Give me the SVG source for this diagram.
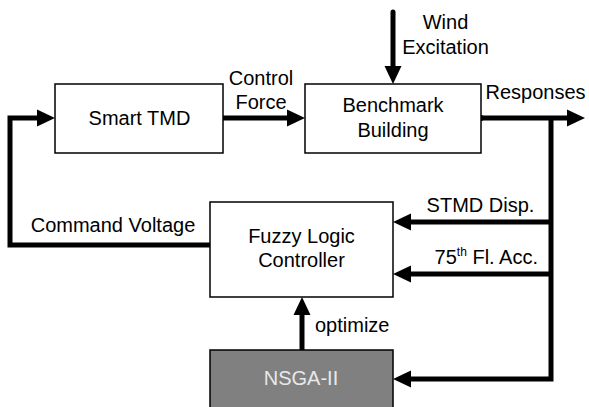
<svg xmlns="http://www.w3.org/2000/svg" width="589" height="407" viewBox="0 0 589 407">
<style>
text{font-family:"Liberation Sans",Arial,sans-serif;font-size:20px;fill:#000}
.c{text-anchor:middle}
.box{fill:#fff;stroke:#000;stroke-width:1.5}
.gray{fill:#808080;stroke:#000;stroke-width:1.5}
.ln{fill:none;stroke:#000;stroke-width:5;stroke-linejoin:miter}
</style>
<defs>
<marker id="ah" markerUnits="userSpaceOnUse" markerWidth="18" markerHeight="18" refX="0" refY="8.5" orient="auto" overflow="visible">
<path d="M0,0 L18,8.5 L0,17 z" fill="#000"/>
</marker>
</defs>
<g id="connectors">
<path class="ln" d="M210,245 H10 V118 H37" marker-end="url(#ah)"/>
<path class="ln" d="M223,118 H287" marker-end="url(#ah)"/>
<path class="ln" d="M393,12 V66" stroke-linecap="round" marker-end="url(#ah)"/>
<path class="ln" d="M481,118 H567" marker-end="url(#ah)"/>
<circle cx="481" cy="118" r="3" fill="#000"/>
<path class="ln" d="M551,118 V379 H411" marker-end="url(#ah)"/>
<path class="ln" d="M551,222 H411" marker-end="url(#ah)"/>
<path class="ln" d="M551,274 H411" marker-end="url(#ah)"/>
<path class="ln" d="M302,350 V315" marker-end="url(#ah)"/>
</g>
<g id="smart-tmd">
<rect class="box" x="55" y="84" width="168" height="69"/>
<text class="c" x="139.5" y="125">Smart TMD</text>
</g>
<g id="benchmark-building">
<rect class="box" x="305" y="84" width="176" height="69"/>
<text class="c" x="393" y="112">Benchmark</text>
<text class="c" x="393" y="137">Building</text>
</g>
<g id="fuzzy-logic-controller">
<rect class="box" x="210" y="202" width="183" height="95"/>
<text class="c" x="301.5" y="243">Fuzzy Logic</text>
<text class="c" x="301.5" y="267">Controller</text>
</g>
<g id="nsga-ii">
<rect class="gray" x="210" y="350" width="183" height="60"/>
<text class="c" x="301" y="385" style="fill:#e8e8e8">NSGA-II</text>
</g>
<g id="labels">
<text class="c" x="261" y="85">Control</text>
<text class="c" x="261" y="109">Force</text>
<text class="c" x="445.5" y="29">Wind</text>
<text class="c" x="445.5" y="54">Excitation</text>
<text class="c" x="535.5" y="99">Responses</text>
<text class="c" x="113" y="232">Command Voltage</text>
<text class="c" x="480.5" y="212">STMD Disp.</text>
<text x="538" y="264" style="text-anchor:end">75<tspan dy="-8" style="font-size:12px">th</tspan><tspan dy="8"> Fl. Acc.</tspan></text>
<text x="315" y="332">optimize</text>
</g>
</svg>
